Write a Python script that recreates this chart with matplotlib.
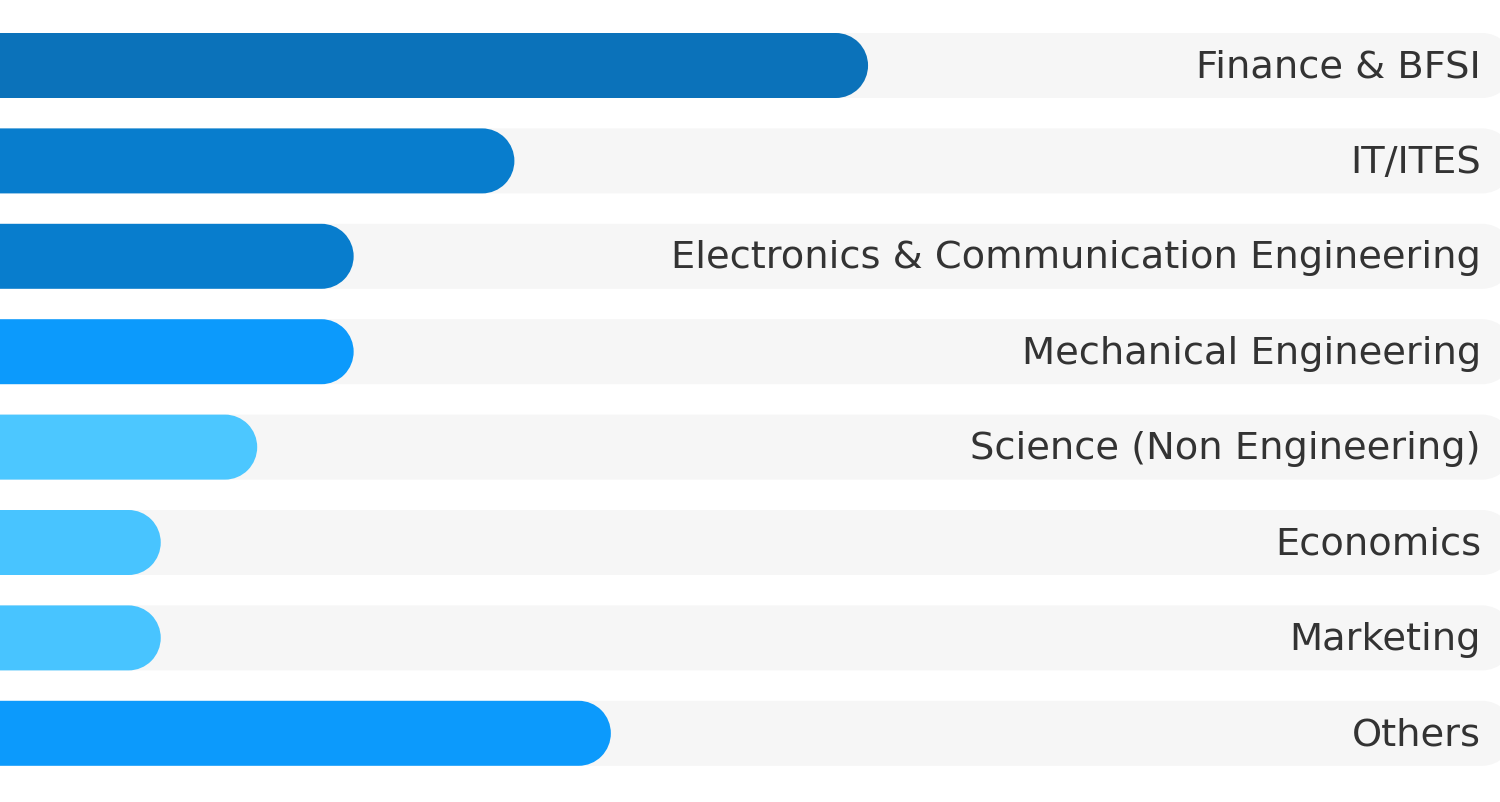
import matplotlib
matplotlib.use("Agg")
import matplotlib.pyplot as plt
from matplotlib.path import Path
from matplotlib.patches import PathPatch

# data
categories = ["Finance & BFSI", "IT/ITES", "Electronics & Communication Engineering",
              "Mechanical Engineering", "Science (Non Engineering)", "Economics",
              "Marketing", "Others"]
values = [27, 16, 11, 11, 8, 5, 5, 19]
colors = ["#0B72BA", "#087DCD", "#087DCD", "#0C9AFC", "#4CC7FF", "#48C4FF", "#48C4FF", "#0C9AFC"]
track_max = 47.1

W, H = 1500, 802
fig = plt.figure(figsize=(W / 100, H / 100), dpi=100)
ax = fig.add_axes([0, 0, 1, 1])
ax.set_xlim(0, W / 32.15)
ax.set_ylim((H - 65.5) / 95.4, -65.5 / 95.4)
ax.axis("off")

bar_h = 65 / 95.4
r = 1.0  # cap radius in x units (~32 px)


def pill(length, yc):
    # bar from x=0 to length with a half-round right end
    arc = Path.arc(-90, 90)
    av = arc.vertices * [r, bar_h / 2] + [length - r, yc]
    verts = [(-1, yc - bar_h / 2), (length - r, yc - bar_h / 2)]
    codes = [Path.MOVETO, Path.LINETO]
    verts += list(map(tuple, av[1:]))
    codes += list(arc.codes[1:])
    verts += [(-1, yc + bar_h / 2), (-1, yc - bar_h / 2)]
    codes += [Path.LINETO, Path.CLOSEPOLY]
    return Path(verts, codes)


for i, (cat, v, c) in enumerate(zip(categories, values, colors)):
    ax.add_patch(PathPatch(pill(track_max, i), fc="#F6F6F6", ec="none", zorder=1))
    ax.add_patch(PathPatch(pill(v, i), fc=c, ec="none", zorder=2))
    ax.text(1481 / 32.15, i + 0.02, cat, ha="right", va="center",
            fontsize=27.6, color="#333333", family=["DejaVu Sans"], zorder=3)

fig.savefig("out.png", dpi=100, facecolor="white")
